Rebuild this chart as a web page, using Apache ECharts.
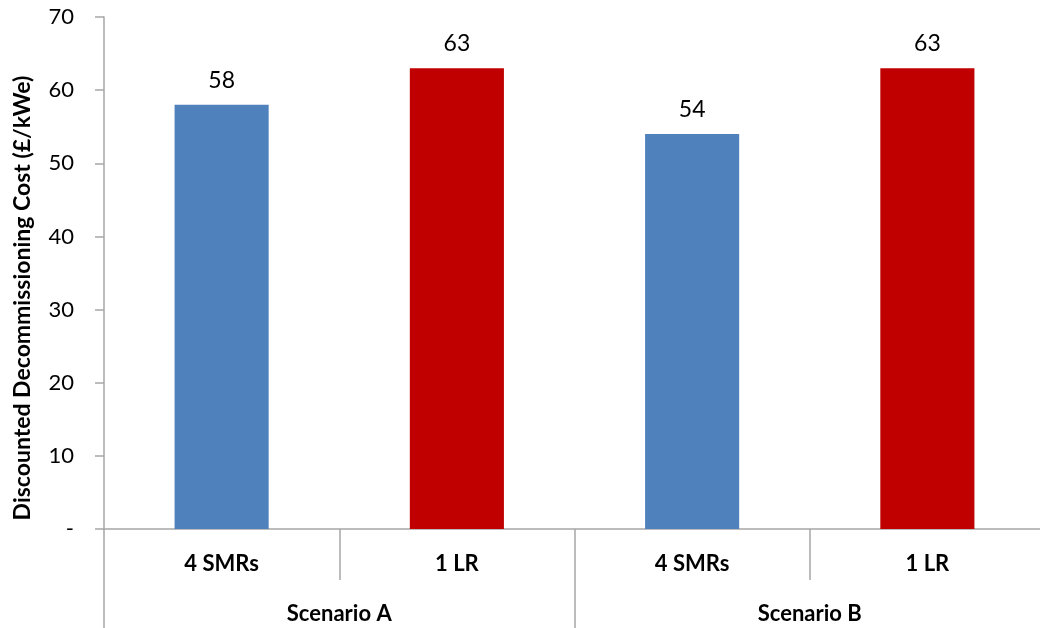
<!DOCTYPE html>
<html>
<head>
<meta charset="utf-8">
<script src="https://cdn.jsdelivr.net/npm/echarts@6/dist/echarts.min.js"></script>
<style>
  html, body { margin: 0; padding: 0; background: #fff; }
  #chart { width: 1040px; height: 628px; }
</style>
</head>
<body>
<div id="chart"></div>
<script>
// Reactor configurations and their scenario groups
const categories = ['4 SMRs', '1 LR', '4 SMRs', '1 LR'];
const scenarios = ['Scenario A', 'Scenario B'];
// Discounted decommissioning cost, £/kWe
const costValues = [58, 63, 54, 63];
const barColors = ['#4F81BD', '#C00000', '#4F81BD', '#C00000'];
const yTicks = [0, 10, 20, 30, 40, 50, 60, 70];

const FONT = 'Lato, "Open Sans", sans-serif';
const AXIS_GRAY = '#a6a6a6';

const chart = echarts.init(document.getElementById('chart'), null, { renderer: 'canvas' });

chart.setOption({
  animation: false,
  backgroundColor: '#ffffff',
  grid: {
    left: 104, right: -5, top: 17, bottom: 99,
    containLabel: false,
    outerBoundsMode: 'none'
  },
  xAxis: [
    {
      type: 'category',
      data: categories,
      position: 'bottom',
      axisLine: { show: true, lineStyle: { color: AXIS_GRAY, width: 1.5 } },
      axisTick: { show: true, interval: 0, length: 51, lineStyle: { color: AXIS_GRAY, width: 1.5 } },
      axisLabel: { interval: 0, margin: 24, fontFamily: FONT, fontSize: 22, fontWeight: 'bold', color: '#000' }
    },
    {
      type: 'category',
      data: scenarios,
      position: 'bottom',
      axisLine: { show: false },
      axisTick: { show: true, interval: 0, length: 100, lineStyle: { color: AXIS_GRAY, width: 1.5 } },
      axisLabel: { interval: 0, margin: 74, fontFamily: FONT, fontSize: 22, fontWeight: 'bold', color: '#000' }
    }
  ],
  yAxis: {
    type: 'value',
    min: yTicks[0],
    max: yTicks[yTicks.length - 1],
    interval: 10,
    name: 'Discounted Decommissioning Cost (£/kWe)',
    nameLocation: 'middle',
    nameGap: 70,
    nameTextStyle: {
      fontFamily: FONT, fontSize: 23, fontWeight: 'bold', color: '#000',
      padding: [0, 50, 0, 0]
    },
    axisLine: { show: true, lineStyle: { color: AXIS_GRAY, width: 1.5 } },
    axisTick: { show: true, length: 9, lineStyle: { color: AXIS_GRAY, width: 1.5 } },
    splitLine: { show: false },
    axisLabel: {
      margin: 30,
      fontFamily: FONT,
      fontSize: 22,
      color: '#000',
      formatter: v => (v === 0 ? '-' : String(v))
    }
  },
  series: [
    {
      type: 'bar',
      xAxisIndex: 0,
      barCategoryGap: '60%',
      data: costValues.map((v, i) => ({ value: v, itemStyle: { color: barColors[i] } })),
      label: {
        show: true,
        position: 'top',
        distance: 13,
        fontFamily: FONT,
        fontSize: 23,
        color: '#000',
        formatter: p => String(p.value)
      }
    }
  ]
});
</script>
</body>
</html>
